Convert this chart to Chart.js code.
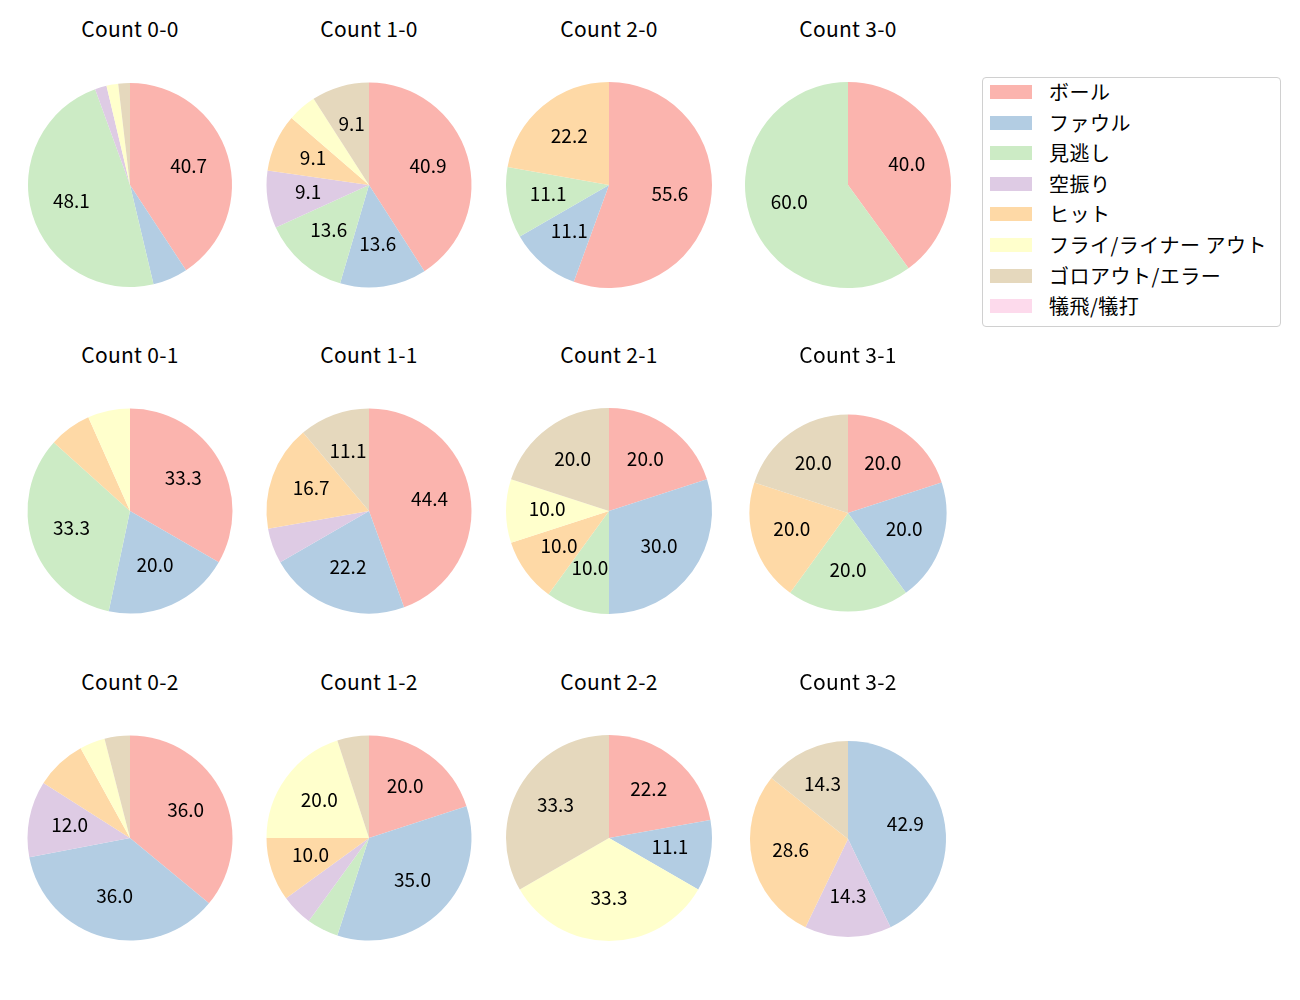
<!DOCTYPE html>
<html><head><meta charset="utf-8">
<script src="https://cdn.jsdelivr.net/npm/chart.js@4/dist/chart.umd.min.js"></script>
<style>
body{margin:0;width:1300px;height:1000px;background:#fff;position:relative;font-family:"Noto Sans CJK JP","Noto Sans",sans-serif;color:#000;}
.t{position:absolute;width:240px;text-align:center;font-size:21px;line-height:24px;letter-spacing:0.3px;}
canvas{position:absolute;}
#legend{position:absolute;left:982px;top:77px;width:297px;height:248px;border:1px solid #d0d0d0;border-radius:4px;box-sizing:content-box;}
.li{position:absolute;left:0;height:24px;font-size:20px;line-height:24px;white-space:nowrap;}
.sw{position:absolute;left:7px;top:5px;width:42px;height:14px;}
.lt{position:absolute;left:66px;top:0;letter-spacing:0.5px;}
</style></head><body>
<div id="legend"></div>
<script>
const categories = ["ボール","ファウル","見逃し","空振り","ヒット","フライ/ライナー アウト","ゴロアウト/エラー","犠飛/犠打"];
const colors = ["#fbb4ae","#b3cde3","#ccebc5","#decbe4","#fed9a6","#ffffcc","#e5d8bd","#fddaec"];
const titles = ["Count 0-0","Count 1-0","Count 2-0","Count 3-0","Count 0-1","Count 1-1","Count 2-1","Count 3-1","Count 0-2","Count 1-2","Count 2-2","Count 3-2"];
const c00 = [22,3,26,1,0,1,1,0];
const c10 = [9,3,3,2,2,1,2,0];
const c20 = [5,1,1,0,2,0,0,0];
const c30 = [2,0,3,0,0,0,0,0];
const c01 = [5,3,5,0,1,1,0,0];
const c11 = [8,4,0,1,3,0,2,0];
const c21 = [2,3,1,0,1,1,2,0];
const c31 = [1,1,1,0,1,0,1,0];
const c02 = [9,9,0,3,2,1,1,0];
const c12 = [4,7,1,1,2,4,1,0];
const c22 = [2,1,0,0,0,3,3,0];
const c32 = [0,3,0,1,2,0,1,0];
const allData = [c00,c10,c20,c30,c01,c11,c21,c31,c02,c12,c22,c32];

const colX = [130,369,609,848];
const rowY = [185,511,838];
const titleY = [29,355,682];
const radii = [102,102.5,103,103, 102.5,102.5,103,98.5, 102.5,102.5,103,98];
const centerAdj = [[0,0],[0,0],[0,0],[0,0],[0,0],[0,0],[0,0],[0,1.5],[0,0],[0,0],[0,0],[0,1]];

const pctPlugin = {
  id:'pct',
  afterDatasetsDraw(chart){
    const ctx = chart.ctx;
    const ds = chart.data.datasets[0].data;
    const total = ds.reduce((a,b)=>a+b,0);
    const meta = chart.getDatasetMeta(0);
    ctx.save();
    ctx.font = '19px "Noto Sans CJK JP","Noto Sans",sans-serif';
    ctx.fillStyle = '#000';
    ctx.textAlign = 'center';
    ctx.textBaseline = 'middle';
    meta.data.forEach((arc,i)=>{
      const v = ds[i];
      const pct = v/total*100;
      if (pct < 9) return;
      const p = arc.getProps(['x','y','startAngle','endAngle','outerRadius'],true);
      const mid = (p.startAngle+p.endAngle)/2;
      const r = p.outerRadius*0.6;
      ctx.fillText(pct.toFixed(1), p.x+Math.cos(mid)*r, p.y+Math.sin(mid)*r-2);
    });
    ctx.restore();
  }
};

allData.forEach((d,i)=>{
  const col = i%4, row = Math.floor(i/4);
  const R = radii[i];
  const size = 240;
  const cx = colX[col]+centerAdj[i][0], cy = rowY[row]+centerAdj[i][1];
  const t = document.createElement('div');
  t.className='t'; t.textContent = titles[i];
  t.style.left = (colX[col]-120)+'px'; t.style.top = (titleY[row]-13)+'px';
  document.body.appendChild(t);
  const cv = document.createElement('canvas');
  cv.width=size; cv.height=size;
  cv.style.width=size+'px'; cv.style.height=size+'px';
  cv.style.left=(cx-size/2)+'px'; cv.style.top=(cy-size/2)+'px';
  document.body.appendChild(cv);
  new Chart(cv,{
    type:'pie',
    data:{labels:categories,datasets:[{data:d,backgroundColor:colors,borderWidth:0,radius:R}]},
    options:{responsive:false,animation:false,devicePixelRatio:1,
      layout:{padding:0},
      plugins:{legend:{display:false},tooltip:{enabled:false},title:{display:false}}},
    plugins:[pctPlugin]
  });
});

const lg = document.getElementById('legend');
categories.forEach((c,i)=>{
  const li = document.createElement('div');
  li.className='li';
  li.style.top = (2+i*30.6)+'px';
  li.innerHTML = '<div class="sw" style="background:'+colors[i]+'"></div><div class="lt"></div>';
  li.querySelector('.lt').textContent = c;
  lg.appendChild(li);
});
</script>
</body></html>
